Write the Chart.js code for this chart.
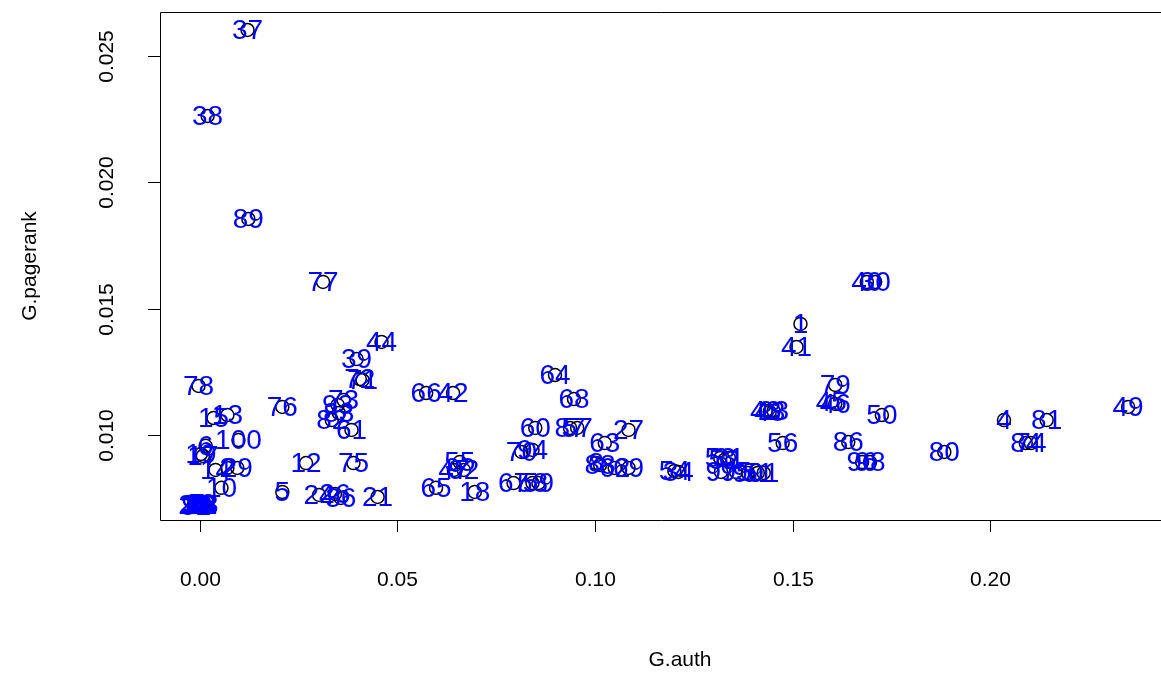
<!DOCTYPE html>
<html>
<head>
<meta charset="utf-8">
<script src="https://cdn.jsdelivr.net/npm/chart.js@4.4.1/dist/chart.umd.min.js"></script>
<style>
  body { margin: 0; background: #ffffff; }
  #contenedor { width: 1161px; height: 673px; position: relative; }
</style>
</head>
<body>
<div id="contenedor"><canvas id="graficaAuthPagerank"></canvas></div>
<script>
// Nodos (etiquetas de cada punto)
const nodos = [
  "1", "2", "3", "4", "5", "6", "7", "8", "9", "10",
  "11", "12", "13", "14", "15", "16", "17", "18", "19", "20",
  "21", "22", "23", "24", "25", "26", "27", "28", "29", "30",
  "31", "32", "33", "34", "35", "36", "37", "38", "39", "40",
  "41", "42", "43", "44", "45", "46", "47", "48", "49", "50",
  "51", "52", "53", "54", "55", "56", "57", "58", "59", "60",
  "61", "62", "63", "64", "65", "66", "67", "68", "69", "70",
  "71", "72", "73", "74", "75", "76", "77", "78", "79", "80",
  "81", "82", "83", "84", "85", "86", "87", "88", "89", "90",
  "91", "92", "93", "94", "95", "96", "97", "98", "99", "100",
];

// G.auth (eje x)
const auth = [
  0.1520, 0.0070, -0.0012, 0.2035, 0.0209, 0.0015, -0.0006, 0.1003, 0.0004, 0.0055,
  -0.0009, 0.0269, 0.0070, 0.0040, 0.0035, 0.0000, 0.0008, 0.0696, 0.0003, -0.0015,
  0.0450, 0.0006, 0.1452, 0.0302, -0.0003, 0.0342, 0.1085, 0.0002, 0.0095, 0.1709,
  0.1339, -0.0010, 0.0008, 0.1211, -0.0004, 0.0357, 0.0121, 0.0020, 0.0397, 0.1688,
  0.1510, 0.0641, 0.1432, 0.0460, 0.1598, 0.1608, 0.0643, 0.1442, 0.2349, 0.1726,
  0.1412, 0.1327, 0.1317, 0.1201, 0.0658, 0.1475, 0.0955, 0.0842, 0.0857, 0.0849,
  0.0384, 0.1050, 0.1025, 0.0899, 0.0598, 0.0573, 0.0794, 0.0947, 0.1085, 0.0814,
  0.0412, 0.0405, 0.0364, 0.2103, 0.0389, 0.0209, 0.0312, -0.0003, 0.1608, 0.1884,
  0.2143, 0.0334, 0.0352, 0.2090, 0.0003, 0.1641, 0.0937, 0.1013, 0.0123, 0.1387,
  0.1427, 0.0668, 0.0349, 0.0842, 0.1357, 0.1676, 0.1319, 0.1696, -0.0007, 0.0098,
];

// G.pagerank (eje y)
const pagerank = [
  0.01439, 0.00870, 0.00722, 0.01059, 0.00775, 0.00957, 0.00725, 0.00889, 0.00721, 0.00791,
  0.00724, 0.00889, 0.01079, 0.00862, 0.01067, 0.00723, 0.00917, 0.00775, 0.00925, 0.00722,
  0.00755, 0.00724, 0.01095, 0.00763, 0.00721, 0.00767, 0.01020, 0.00726, 0.00870, 0.01605,
  0.00909, 0.00720, 0.00723, 0.00854, 0.00723, 0.00751, 0.02601, 0.02261, 0.01300, 0.01605,
  0.01348, 0.01166, 0.01095, 0.01368, 0.01130, 0.01123, 0.00862, 0.01091, 0.01111, 0.01079,
  0.00850, 0.00901, 0.00909, 0.00858, 0.00893, 0.00968, 0.01028, 0.00810, 0.00810, 0.01028,
  0.01020, 0.00870, 0.00968, 0.01237, 0.00791, 0.01166, 0.00810, 0.01142, 0.00870, 0.00933,
  0.01217, 0.01221, 0.01138, 0.00968, 0.00889, 0.01111, 0.01605, 0.01194, 0.01198, 0.00933,
  0.01059, 0.01059, 0.01087, 0.00968, 0.00722, 0.00972, 0.01028, 0.00881, 0.01854, 0.00850,
  0.00850, 0.00862, 0.01119, 0.00941, 0.00854, 0.00893, 0.00854, 0.00893, 0.00722, 0.00980,
];

// Marcas de los ejes
const ticksX = [0, 0.05, 0.1, 0.15, 0.2];
const etiquetasX = ["0.00", "0.05", "0.10", "0.15", "0.20"];
const ticksY = [0.01, 0.015, 0.02, 0.025];
const etiquetasY = ["0.010", "0.015", "0.020", "0.025"];

const fuente = '"Liberation Sans", Arial, Helvetica, sans-serif';

const puntos = auth.map(function (a, i) {
  return { x: a, y: pagerank[i] };
});

// Ejes estilo R (caja, marcas y textos)
const ejesR = {
  id: "ejesR",
  afterDraw: function (chart) {
    const ctx = chart.ctx;
    const area = chart.chartArea;
    const sx = chart.scales.x;
    const sy = chart.scales.y;
    ctx.save();
    ctx.strokeStyle = "#000000";
    ctx.lineWidth = 1;

    // caja (el lado derecho queda fuera de la imagen)
    ctx.beginPath();
    ctx.moveTo(area.right + 20, area.top + 0.5);
    ctx.lineTo(area.left + 0.5, area.top + 0.5);
    ctx.lineTo(area.left + 0.5, area.bottom + 0.5);
    ctx.lineTo(area.right + 20, area.bottom + 0.5);
    ctx.stroke();

    ctx.fillStyle = "#000000";
    ctx.font = "21px " + fuente;

    // eje x
    ctx.textAlign = "center";
    ctx.textBaseline = "middle";
    ticksX.forEach(function (v, i) {
      const px = Math.round(sx.getPixelForValue(v)) + 0.5;
      ctx.beginPath();
      ctx.moveTo(px, area.bottom);
      ctx.lineTo(px, area.bottom + 12);
      ctx.stroke();
      ctx.fillText(etiquetasX[i], px, 580);
    });

    // eje y
    ticksY.forEach(function (v, i) {
      const py = Math.round(sy.getPixelForValue(v)) + 0.5;
      ctx.beginPath();
      ctx.moveTo(area.left, py);
      ctx.lineTo(area.left - 12, py);
      ctx.stroke();
      ctx.save();
      ctx.translate(107, py);
      ctx.rotate(-Math.PI / 2);
      ctx.fillText(etiquetasY[i], 0, 0);
      ctx.restore();
    });

    // títulos
    ctx.fillText("G.auth", 680, 660);
    ctx.save();
    ctx.translate(30, (area.top + area.bottom) / 2);
    ctx.rotate(-Math.PI / 2);
    ctx.fillText("G.pagerank", 0, 0);
    ctx.restore();
    ctx.restore();
  },
};

// Etiquetas azules sobre cada punto
const etiquetasNodos = {
  id: "etiquetasNodos",
  afterDatasetsDraw: function (chart) {
    const ctx = chart.ctx;
    const meta = chart.getDatasetMeta(0);
    ctx.save();
    ctx.fillStyle = "#0000ff";
    ctx.font = "28px " + fuente;
    ctx.textAlign = "center";
    ctx.textBaseline = "middle";
    meta.data.forEach(function (p, i) {
      ctx.fillText(nodos[i], p.x, p.y + 1);
    });
    ctx.restore();
  },
};

const ctxScatter = document.getElementById("graficaAuthPagerank").getContext("2d");
const grafica = new Chart(ctxScatter, {
  type: "scatter",
  data: {
    datasets: [
      {
        label: "G",
        data: puntos,
        pointStyle: "circle",
        pointRadius: 6.5,
        pointBorderWidth: 1.5,
        pointBackgroundColor: "rgba(0,0,0,0)",
        pointBorderColor: "#000000",
      },
    ],
  },
  options: {
    responsive: true,
    maintainAspectRatio: false,
    animation: false,
    layout: {
      padding: { left: 160, top: 12, right: 1, bottom: 153 },
    },
    scales: {
      x: { type: "linear", min: -0.01005, max: 0.2412, display: false },
      y: { type: "linear", min: 0.00664, max: 0.02672, display: false },
    },
    plugins: {
      legend: { display: false },
      tooltip: { enabled: false },
    },
  },
  plugins: [ejesR, etiquetasNodos],
});
</script>
</body>
</html>
